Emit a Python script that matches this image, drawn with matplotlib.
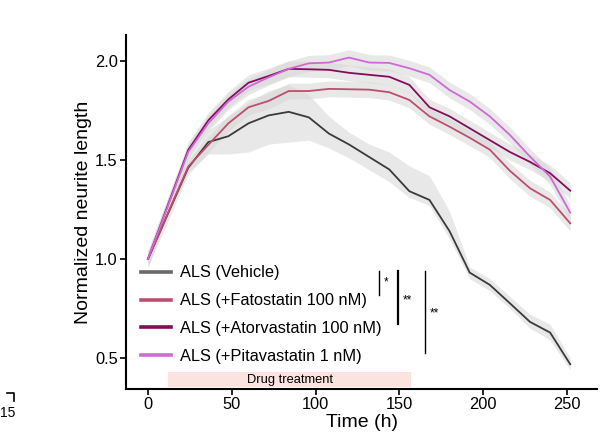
import matplotlib
matplotlib.use("Agg")
import matplotlib.pyplot as plt

plt.rcParams["font.family"] = ["Liberation Sans", "DejaVu Sans"]

# время (ч)
time_h = [0, 24, 36, 48, 60, 72, 84, 96, 108, 120, 132, 144, 156, 168,
          180, 192, 204, 216, 228, 240, 252]

vehicle = [1.00, 1.46, 1.59, 1.62, 1.685, 1.725, 1.743, 1.715, 1.633, 1.578,
           1.515, 1.452, 1.342, 1.298, 1.140, 0.931, 0.869, 0.776, 0.682,
           0.628, 0.468]
vehicle_lo = [1.00, 1.44, 1.53, 1.53, 1.54, 1.58, 1.59, 1.60, 1.56, 1.51,
              1.45, 1.39, 1.31, 1.27, 1.10, 0.90, 0.84, 0.75, 0.65, 0.59, 0.44]
vehicle_hi = [1.00, 1.49, 1.65, 1.72, 1.79, 1.85, 1.88, 1.83, 1.72, 1.64,
              1.58, 1.54, 1.47, 1.42, 1.24, 0.96, 0.90, 0.81, 0.72, 0.67, 0.50]

fatostatin = [1.00, 1.466, 1.576, 1.685, 1.766, 1.798, 1.848, 1.848, 1.859,
              1.857, 1.855, 1.842, 1.803, 1.720, 1.668, 1.612, 1.552, 1.445,
              1.357, 1.298, 1.180]
atorvastatin = [1.00, 1.55, 1.70, 1.806, 1.89, 1.924, 1.96, 1.958, 1.955,
                1.940, 1.930, 1.920, 1.879, 1.766, 1.720, 1.660, 1.600, 1.540,
                1.490, 1.433, 1.345]
pitavastatin = [1.00, 1.54, 1.685, 1.795, 1.87, 1.917, 1.96, 1.988, 1.992,
                2.017, 1.992, 1.990, 1.963, 1.930, 1.853, 1.795, 1.720, 1.626,
                1.517, 1.416, 1.234]
treated_err = 0.04  # ширина серой полосы у препаратов

labels = ["ALS (Vehicle)", "ALS (+Fatostatin 100 nM)",
          "ALS (+Atorvastatin 100 nM)", "ALS (+Pitavastatin 1 nM)"]
colors = ["#3a3a3a", "#bf4d6d", "#850c5b", "#d068d6"]
legend_colors = ["#6a6a6a", "#bf4d6d", "#850c5b", "#d068d6"]

# значимость: (x, y0, y1, подпись, толщина)
sig_bars = [(138, 0.94, 0.82, "*", 1.0),
            (149.5, 0.94, 0.67, "**", 1.6),
            (165.5, 0.94, 0.525, "**", 1.0)]
sig_text_pos = [(140.5, 0.88), (152, 0.79), (168, 0.725)]

treat_start, treat_end = 12, 157

fig = plt.figure(figsize=(6.01, 4.46), dpi=100)
ax = fig.add_axes([0.2097, 0.1278, 0.7837, 0.7937])

# ленты
ax.fill_between(time_h, vehicle_lo, vehicle_hi, color="#d6d6d6", alpha=0.55, lw=0)
for s in (fatostatin, atorvastatin, pitavastatin):
    ax.fill_between(time_h, [v - treated_err for v in s], [v + treated_err for v in s],
                    color="#d6d6d6", alpha=0.55, lw=0)

lines = []
for s, c, lab in zip([vehicle, fatostatin, atorvastatin, pitavastatin], colors, labels):
    ln, = ax.plot(time_h, s, color=c, lw=1.3, label=lab)
    lines.append(ln)

# полоса "Drug treatment"
ax.fill_between([treat_start, treat_end], 0.355, 0.428, color="#fbe4e0", lw=0)
ax.text((treat_start + treat_end) / 2, 0.39, "Drug treatment", ha="center",
        va="center", fontsize=9.3)

for (x, y0, y1, lab, lw), (tx, ty) in zip(sig_bars, sig_text_pos):
    ax.plot([x, x], [y0, y1], color="black", lw=lw)
    ax.text(tx, ty, lab, ha="left", va="center", fontsize=8.5)

leg = ax.legend(handles=lines, loc="center left", bbox_to_anchor=(0.032, 0.21),
                frameon=False, fontsize=11.8, handlelength=1.8, handletextpad=0.6,
                labelspacing=0.78, borderpad=0, borderaxespad=0)
for h, c in zip(leg.legend_handles, legend_colors):
    h.set_linewidth(2.6)
    h.set_color(c)

ax.set_xlim(-13.1, 268)
ax.set_ylim(0.343, 2.131)
ax.set_xticks([0, 50, 100, 150, 200, 250])
ax.set_yticks([0.5, 1.0, 1.5, 2.0])
ax.set_yticklabels(["0.5", "1.0", "1.5", "2.0"])
ax.tick_params(labelsize=11.8, length=4, width=1.2, colors="black", pad=2)
for side in ("top", "right"):
    ax.spines[side].set_visible(False)
for side in ("left", "bottom"):
    ax.spines[side].set_linewidth(1.5)

ax.set_xlabel("Time (h)", fontsize=14, labelpad=1)
ax.set_ylabel("Normalized neurite length", fontsize=14, labelpad=2)

# обрезок соседней панели слева внизу
fig.text(0.0, 0.073, "15", fontsize=10, ha="left", va="center")
fig.add_artist(plt.Line2D([0.012, 0.024, 0.024], [0.118, 0.118, 0.1], color="black",
                          lw=1.2, transform=fig.transFigure))

plt.savefig("out.png", dpi=100)
